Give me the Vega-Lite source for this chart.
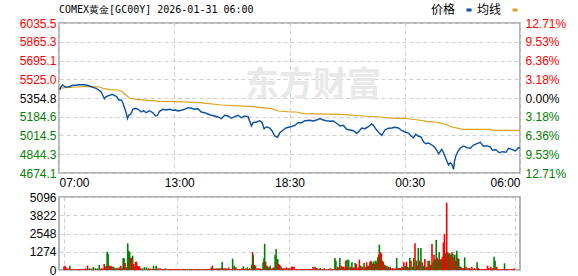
{
 "$schema": "https://vega.github.io/schema/vega-lite/v6.json",
 "padding": {"left": 18, "top": 3, "right": 5, "bottom": 5},
 "background": "white",
 "bounds": "flush",
 "spacing": 24,
 "resolve": {"scale": {"color": "independent"}, "legend": {"color": "independent"}},
 "config": {
  "view": {"stroke": "#9c9c9c", "strokeWidth": 1.5},
  "font": "Liberation Sans",
  "axis": {"labelFont": "Liberation Sans", "labelFontSize": 12, "gridColor": "#cfcfcf", "gridDash": [4, 3], "gridWidth": 1, "ticks": false, "domain": false, "title": null, "labelPadding": 3}
 },
 "datasets": {
  "wm": [{"m": 760, "p": 5468, "t": "东方财富"}],
  "price": [
   {"m":0,"p":5437},{"m":3,"p":5433.8},{"m":6,"p":5457.4},{"m":11,"p":5472.8},{"m":19,"p":5454.7},{"m":31,"p":5457.4},{"m":41,"p":5470.1},{"m":51,"p":5470.1},{"m":61,"p":5475.5},{"m":71,"p":5475.5},{"m":81,"p":5472.8},{"m":91,"p":5463.7},{"m":101,"p":5451.9},{"m":111,"p":5442.9},{"m":119,"p":5427.4},{"m":126,"p":5409.3},{"m":131,"p":5379.3},{"m":136,"p":5348.5},{"m":141,"p":5366.6},{"m":151,"p":5379.3},{"m":159,"p":5388.4},{"m":166,"p":5379.3},{"m":173,"p":5366.6},{"m":179,"p":5336.7},{"m":186,"p":5336.7},{"m":191,"p":5312.2},{"m":196,"p":5266.8},{"m":201,"p":5221.4},{"m":205,"p":5167.0},{"m":209,"p":5197.8},{"m":215,"p":5209.6},{"m":221,"p":5252.3},{"m":229,"p":5261.3},{"m":237,"p":5252.3},{"m":246,"p":5227.8},{"m":253,"p":5239.6},{"m":261,"p":5221.4},{"m":271,"p":5239.6},{"m":281,"p":5221.4},{"m":289,"p":5191.5},{"m":295,"p":5197.8},{"m":301,"p":5234.1},{"m":311,"p":5252.3},{"m":321,"p":5245.9},{"m":331,"p":5252.3},{"m":341,"p":5243.2},{"m":349,"p":5245.9},{"m":356,"p":5236.8},{"m":366,"p":5243.2},{"m":376,"p":5252.3},{"m":386,"p":5266.8},{"m":396,"p":5261.3},{"m":406,"p":5252.3},{"m":416,"p":5257.7},{"m":426,"p":5227.8},{"m":436,"p":5221.4},{"m":446,"p":5209.6},{"m":456,"p":5197.8},{"m":466,"p":5191.5},{"m":476,"p":5182.4},{"m":486,"p":5167.0},{"m":496,"p":5197.8},{"m":506,"p":5191.5},{"m":516,"p":5170.6},{"m":526,"p":5185.1},{"m":536,"p":5197.8},{"m":546,"p":5176.0},{"m":556,"p":5191.5},{"m":566,"p":5185.1},{"m":576,"p":5100.7},{"m":581,"p":5130.7},{"m":591,"p":5137.0},{"m":601,"p":5148.8},{"m":608,"p":5130.7},{"m":614,"p":5076.2},{"m":621,"p":5094.3},{"m":631,"p":5082.5},{"m":638,"p":5055.3},{"m":646,"p":5009.9},{"m":654,"p":4998.1},{"m":661,"p":5039.9},{"m":671,"p":5064.4},{"m":681,"p":5085.3},{"m":694,"p":5094.3},{"m":706,"p":5107.1},{"m":716,"p":5130.7},{"m":726,"p":5130.7},{"m":736,"p":5148.8},{"m":751,"p":5152.4},{"m":761,"p":5146.1},{"m":771,"p":5155.2},{"m":781,"p":5167.0},{"m":791,"p":5155.2},{"m":801,"p":5148.8},{"m":811,"p":5143.4},{"m":821,"p":5146.1},{"m":831,"p":5125.2},{"m":841,"p":5100.7},{"m":851,"p":5107.1},{"m":861,"p":5070.7},{"m":871,"p":5064.4},{"m":881,"p":5058.0},{"m":891,"p":5034.4},{"m":896,"p":5046.2},{"m":906,"p":5082.5},{"m":916,"p":5076.2},{"m":926,"p":5094.3},{"m":936,"p":5118.9},{"m":941,"p":5107.1},{"m":949,"p":5070.7},{"m":956,"p":5046.2},{"m":966,"p":5016.3},{"m":976,"p":5064.4},{"m":986,"p":5079.8},{"m":996,"p":5082.5},{"m":1006,"p":5088.9},{"m":1016,"p":5082.5},{"m":1026,"p":5060},{"m":1036,"p":5046.2},{"m":1046,"p":5037.2},{"m":1054,"p":5009.9},{"m":1061,"p":4994.5},{"m":1068,"p":5025.4},{"m":1076,"p":5007.2},{"m":1084,"p":5000.9},{"m":1091,"p":4958.2},{"m":1098,"p":4940.1},{"m":1106,"p":4946.4},{"m":1116,"p":4928.3},{"m":1124,"p":4910.1},{"m":1131,"p":4880.2},{"m":1136,"p":4849.3},{"m":1141,"p":4867.4},{"m":1146,"p":4889.2},{"m":1151,"p":4858.4},{"m":1156,"p":4819.3},{"m":1161,"p":4783.0},{"m":1166,"p":4746.7},{"m":1171,"p":4767.6},{"m":1176,"p":4753.1},{"m":1181,"p":4707.7},{"m":1184,"p":4783.0},{"m":1188,"p":4828.4},{"m":1194,"p":4867.4},{"m":1201,"p":4898.3},{"m":1211,"p":4919.2},{"m":1221,"p":4903.8},{"m":1231,"p":4898.3},{"m":1241,"p":4928.3},{"m":1251,"p":4940.1},{"m":1261,"p":4952.8},{"m":1271,"p":4916.5},{"m":1281,"p":4921.9},{"m":1291,"p":4910.1},{"m":1298,"p":4880.2},{"m":1308,"p":4885.6},{"m":1318,"p":4858.4},{"m":1328,"p":4867.4},{"m":1338,"p":4862.0},{"m":1346,"p":4898.3},{"m":1356,"p":4889.2},{"m":1366,"p":4873.8},{"m":1376,"p":4903.8},{"m":1380,"p":4903.8}
  ],
  "avg": [
   {"m":0,"p":5445},{"m":21,"p":5448.3},{"m":51,"p":5454.7},{"m":91,"p":5461.0},{"m":121,"p":5454.7},{"m":136,"p":5439.2},{"m":151,"p":5430.2},{"m":176,"p":5427.4},{"m":191,"p":5409.3},{"m":201,"p":5379.3},{"m":211,"p":5354.8},{"m":231,"p":5343.0},{"m":266,"p":5334.0},{"m":301,"p":5324.9},{"m":349,"p":5321.3},{"m":421,"p":5312.2},{"m":486,"p":5291.3},{"m":581,"p":5275.9},{"m":636,"p":5257.7},{"m":656,"p":5236.8},{"m":694,"p":5227.8},{"m":711,"p":5227.8},{"m":731,"p":5212.3},{"m":841,"p":5206.9},{"m":911,"p":5191.5},{"m":961,"p":5182.4},{"m":1001,"p":5170.6},{"m":1041,"p":5170.6},{"m":1051,"p":5164.2},{"m":1076,"p":5155.2},{"m":1101,"p":5143.4},{"m":1126,"p":5137.0},{"m":1146,"p":5125.2},{"m":1161,"p":5109.8},{"m":1176,"p":5091.6},{"m":1196,"p":5079.8},{"m":1206,"p":5070.7},{"m":1294,"p":5070.7},{"m":1296,"p":5061.7},{"m":1380,"p":5061.7}
  ],
  "vol": [
   {"m":0,"v":250,"d":"r"},{"m":3,"v":300,"d":"r"},{"m":6,"v":200,"d":"r"},{"m":12,"v":116,"d":"r"},{"m":18,"v":300,"d":"g"},{"m":24,"v":70,"d":"r"},{"m":30,"v":70,"d":"r"},{"m":36,"v":70,"d":"r"},{"m":42,"v":70,"d":"r"},{"m":48,"v":70,"d":"r"},{"m":54,"v":70,"d":"r"},{"m":60,"v":70,"d":"r"},{"m":66,"v":116,"d":"r"},{"m":72,"v":300,"d":"r"},{"m":78,"v":116,"d":"g"},{"m":84,"v":116,"d":"g"},{"m":90,"v":200,"d":"g"},{"m":96,"v":116,"d":"r"},{"m":102,"v":116,"d":"g"},{"m":108,"v":350,"d":"g"},{"m":114,"v":116,"d":"r"},{"m":118,"v":116,"d":"r"},{"m":123,"v":419,"d":"r"},{"m":126,"v":256,"d":"r"},{"m":129,"v":256,"d":"r"},{"m":132,"v":1280,"d":"g"},{"m":135,"v":1140,"d":"g"},{"m":139,"v":300,"d":"r"},{"m":143,"v":300,"d":"r"},{"m":146,"v":233,"d":"r"},{"m":150,"v":233,"d":"g"},{"m":153,"v":186,"d":"g"},{"m":157,"v":116,"d":"r"},{"m":162,"v":150,"d":"g"},{"m":166,"v":116,"d":"r"},{"m":170,"v":186,"d":"r"},{"m":174,"v":300,"d":"r"},{"m":178,"v":116,"d":"g"},{"m":181,"v":815,"d":"g"},{"m":184,"v":815,"d":"g"},{"m":187,"v":490,"d":"r"},{"m":191,"v":186,"d":"r"},{"m":195,"v":1860,"d":"g"},{"m":198,"v":1350,"d":"g"},{"m":201,"v":1233,"d":"g"},{"m":204,"v":838,"d":"r"},{"m":207,"v":860,"d":"r"},{"m":210,"v":1000,"d":"g"},{"m":213,"v":419,"d":"r"},{"m":216,"v":256,"d":"r"},{"m":219,"v":580,"d":"r"},{"m":222,"v":580,"d":"r"},{"m":225,"v":300,"d":"r"},{"m":228,"v":256,"d":"r"},{"m":231,"v":256,"d":"r"},{"m":234,"v":116,"d":"r"},{"m":240,"v":116,"d":"g"},{"m":246,"v":186,"d":"g"},{"m":252,"v":186,"d":"g"},{"m":258,"v":116,"d":"r"},{"m":264,"v":116,"d":"r"},{"m":270,"v":70,"d":"r"},{"m":274,"v":300,"d":"g"},{"m":278,"v":70,"d":"r"},{"m":282,"v":300,"d":"g"},{"m":288,"v":116,"d":"r"},{"m":294,"v":116,"d":"r"},{"m":300,"v":70,"d":"r"},{"m":306,"v":70,"d":"r"},{"m":311,"v":116,"d":"g"},{"m":318,"v":70,"d":"r"},{"m":324,"v":70,"d":"r"},{"m":330,"v":70,"d":"r"},{"m":336,"v":70,"d":"r"},{"m":342,"v":70,"d":"r"},{"m":348,"v":70,"d":"r"},{"m":354,"v":70,"d":"r"},{"m":360,"v":70,"d":"r"},{"m":366,"v":70,"d":"g"},{"m":372,"v":70,"d":"r"},{"m":378,"v":70,"d":"r"},{"m":384,"v":70,"d":"r"},{"m":390,"v":70,"d":"g"},{"m":396,"v":70,"d":"r"},{"m":402,"v":70,"d":"r"},{"m":408,"v":70,"d":"r"},{"m":414,"v":70,"d":"r"},{"m":420,"v":70,"d":"g"},{"m":426,"v":70,"d":"r"},{"m":432,"v":70,"d":"r"},{"m":438,"v":70,"d":"r"},{"m":444,"v":70,"d":"r"},{"m":448,"v":70,"d":"r"},{"m":451,"v":186,"d":"g"},{"m":454,"v":300,"d":"r"},{"m":457,"v":70,"d":"r"},{"m":460,"v":116,"d":"r"},{"m":463,"v":70,"d":"r"},{"m":466,"v":116,"d":"g"},{"m":469,"v":70,"d":"r"},{"m":472,"v":116,"d":"r"},{"m":476,"v":116,"d":"g"},{"m":481,"v":116,"d":"r"},{"m":484,"v":560,"d":"g"},{"m":488,"v":116,"d":"r"},{"m":492,"v":116,"d":"r"},{"m":496,"v":116,"d":"g"},{"m":500,"v":70,"d":"r"},{"m":504,"v":186,"d":"r"},{"m":508,"v":70,"d":"r"},{"m":512,"v":70,"d":"r"},{"m":516,"v":790,"d":"g"},{"m":521,"v":300,"d":"g"},{"m":526,"v":186,"d":"r"},{"m":531,"v":70,"d":"r"},{"m":536,"v":70,"d":"r"},{"m":541,"v":70,"d":"r"},{"m":545,"v":116,"d":"r"},{"m":549,"v":256,"d":"g"},{"m":553,"v":70,"d":"r"},{"m":556,"v":116,"d":"r"},{"m":561,"v":186,"d":"g"},{"m":565,"v":70,"d":"r"},{"m":568,"v":116,"d":"r"},{"m":571,"v":70,"d":"r"},{"m":574,"v":372,"d":"g"},{"m":577,"v":1250,"d":"r"},{"m":579,"v":1047,"d":"g"},{"m":582,"v":350,"d":"r"},{"m":586,"v":300,"d":"g"},{"m":591,"v":116,"d":"r"},{"m":596,"v":116,"d":"r"},{"m":601,"v":116,"d":"r"},{"m":605,"v":70,"d":"r"},{"m":609,"v":535,"d":"g"},{"m":612,"v":815,"d":"g"},{"m":614,"v":1830,"d":"g"},{"m":617,"v":580,"d":"r"},{"m":620,"v":300,"d":"g"},{"m":623,"v":256,"d":"r"},{"m":626,"v":116,"d":"r"},{"m":628,"v":186,"d":"g"},{"m":631,"v":300,"d":"g"},{"m":634,"v":70,"d":"r"},{"m":637,"v":116,"d":"r"},{"m":641,"v":186,"d":"r"},{"m":643,"v":116,"d":"r"},{"m":646,"v":1047,"d":"g"},{"m":649,"v":1466,"d":"g"},{"m":652,"v":650,"d":"r"},{"m":654,"v":768,"d":"g"},{"m":657,"v":419,"d":"r"},{"m":660,"v":350,"d":"r"},{"m":664,"v":256,"d":"g"},{"m":668,"v":116,"d":"r"},{"m":672,"v":116,"d":"r"},{"m":676,"v":116,"d":"r"},{"m":681,"v":186,"d":"r"},{"m":686,"v":116,"d":"g"},{"m":691,"v":116,"d":"r"},
   {"m":696,"v":233,"d":"r"},{"m":700,"v":233,"d":"r"},{"m":704,"v":233,"d":"r"},{"m":711,"v":70,"d":"r"},{"m":717,"v":70,"d":"r"},{"m":723,"v":70,"d":"r"},{"m":729,"v":70,"d":"r"},{"m":735,"v":70,"d":"r"},{"m":741,"v":70,"d":"r"},{"m":747,"v":70,"d":"r"},{"m":753,"v":70,"d":"r"},{"m":758,"v":70,"d":"r"},{"m":762,"v":233,"d":"r"},{"m":768,"v":233,"d":"g"},{"m":771,"v":116,"d":"r"},{"m":774,"v":140,"d":"r"},{"m":779,"v":70,"d":"r"},{"m":784,"v":140,"d":"g"},{"m":790,"v":70,"d":"r"},{"m":796,"v":116,"d":"r"},{"m":802,"v":70,"d":"r"},{"m":808,"v":70,"d":"g"},{"m":814,"v":116,"d":"r"},{"m":820,"v":70,"d":"r"},{"m":825,"v":70,"d":"r"},{"m":829,"v":840,"d":"g"},{"m":832,"v":650,"d":"g"},{"m":835,"v":70,"d":"r"},{"m":838,"v":233,"d":"r"},{"m":841,"v":116,"d":"r"},{"m":844,"v":840,"d":"g"},{"m":848,"v":300,"d":"r"},{"m":852,"v":233,"d":"g"},{"m":856,"v":233,"d":"r"},{"m":859,"v":116,"d":"r"},{"m":862,"v":650,"d":"r"},{"m":866,"v":720,"d":"g"},{"m":868,"v":186,"d":"r"},{"m":871,"v":720,"d":"g"},{"m":876,"v":233,"d":"r"},{"m":878,"v":116,"d":"r"},{"m":881,"v":535,"d":"g"},{"m":884,"v":140,"d":"r"},{"m":886,"v":186,"d":"r"},{"m":889,"v":116,"d":"r"},{"m":891,"v":490,"d":"g"},{"m":894,"v":420,"d":"r"},{"m":898,"v":116,"d":"r"},{"m":901,"v":186,"d":"r"},{"m":904,"v":720,"d":"r"},{"m":908,"v":300,"d":"g"},{"m":911,"v":140,"d":"r"},{"m":913,"v":233,"d":"r"},{"m":918,"v":490,"d":"g"},{"m":921,"v":140,"d":"r"},{"m":924,"v":233,"d":"r"},{"m":926,"v":535,"d":"r"},{"m":928,"v":233,"d":"g"},{"m":931,"v":300,"d":"r"},{"m":934,"v":233,"d":"g"},{"m":936,"v":580,"d":"r"},{"m":939,"v":650,"d":"r"},{"m":942,"v":535,"d":"g"},{"m":945,"v":420,"d":"r"},{"m":948,"v":605,"d":"g"},{"m":951,"v":420,"d":"r"},{"m":954,"v":650,"d":"g"},{"m":957,"v":535,"d":"r"},{"m":960,"v":885,"d":"g"},{"m":963,"v":1070,"d":"r"},{"m":965,"v":1770,"d":"g"},{"m":968,"v":1235,"d":"r"},{"m":971,"v":1165,"d":"r"},{"m":974,"v":650,"d":"g"},{"m":977,"v":580,"d":"r"},{"m":981,"v":370,"d":"g"},{"m":984,"v":300,"d":"r"},{"m":988,"v":300,"d":"g"},{"m":992,"v":233,"d":"r"},{"m":995,"v":140,"d":"r"},{"m":998,"v":233,"d":"g"},{"m":1002,"v":116,"d":"r"},{"m":1006,"v":140,"d":"r"},{"m":1010,"v":70,"d":"r"},{"m":1014,"v":116,"d":"r"},{"m":1018,"v":840,"d":"g"},{"m":1022,"v":140,"d":"r"},{"m":1025,"v":116,"d":"r"},{"m":1028,"v":140,"d":"g"},{"m":1031,"v":116,"d":"r"},{"m":1034,"v":233,"d":"r"},{"m":1037,"v":186,"d":"g"},{"m":1040,"v":535,"d":"r"},{"m":1044,"v":300,"d":"g"},{"m":1048,"v":580,"d":"r"},{"m":1052,"v":233,"d":"g"},{"m":1055,"v":140,"d":"r"},{"m":1058,"v":840,"d":"g"},{"m":1062,"v":650,"d":"r"},{"m":1066,"v":233,"d":"g"},{"m":1070,"v":840,"d":"g"},{"m":1074,"v":1860,"d":"r"},{"m":1078,"v":650,"d":"g"},{"m":1081,"v":300,"d":"r"},{"m":1084,"v":1535,"d":"g"},{"m":1088,"v":650,"d":"r"},{"m":1092,"v":1535,"d":"g"},{"m":1096,"v":535,"d":"r"},{"m":1099,"v":300,"d":"g"},{"m":1102,"v":233,"d":"g"},{"m":1104,"v":770,"d":"r"},{"m":1108,"v":233,"d":"g"},{"m":1111,"v":186,"d":"r"},{"m":1114,"v":650,"d":"r"},{"m":1118,"v":650,"d":"g"},{"m":1121,"v":370,"d":"r"},{"m":1124,"v":300,"d":"g"},{"m":1126,"v":1815,"d":"r"},{"m":1129,"v":535,"d":"g"},{"m":1132,"v":1070,"d":"r"},{"m":1134,"v":650,"d":"r"},{"m":1136,"v":745,"d":"g"},{"m":1139,"v":2095,"d":"g"},{"m":1142,"v":840,"d":"r"},{"m":1145,"v":700,"d":"r"},{"m":1148,"v":1235,"d":"g"},{"m":1151,"v":700,"d":"g"},{"m":1154,"v":770,"d":"r"},{"m":1156,"v":650,"d":"g"},{"m":1158,"v":930,"d":"r"},{"m":1161,"v":1930,"d":"r"},{"m":1164,"v":2515,"d":"r"},{"m":1166,"v":1115,"d":"r"},{"m":1168,"v":1165,"d":"g"},{"m":1171,"v":4700,"d":"r"},{"m":1174,"v":1235,"d":"r"},{"m":1177,"v":1165,"d":"g"},{"m":1180,"v":1165,"d":"g"},{"m":1182,"v":930,"d":"r"},{"m":1184,"v":1070,"d":"r"},{"m":1187,"v":1235,"d":"r"},{"m":1190,"v":1115,"d":"g"},{"m":1193,"v":885,"d":"r"},{"m":1196,"v":1070,"d":"g"},{"m":1199,"v":650,"d":"r"},{"m":1202,"v":1350,"d":"g"},{"m":1205,"v":840,"d":"r"},{"m":1208,"v":770,"d":"g"},{"m":1211,"v":233,"d":"r"},{"m":1214,"v":233,"d":"g"},{"m":1217,"v":140,"d":"r"},{"m":1220,"v":70,"d":"r"},{"m":1222,"v":140,"d":"r"},{"m":1226,"v":885,"d":"g"},{"m":1230,"v":233,"d":"r"},{"m":1233,"v":70,"d":"r"},{"m":1236,"v":140,"d":"g"},{"m":1241,"v":140,"d":"r"},{"m":1244,"v":70,"d":"r"},{"m":1248,"v":233,"d":"r"},{"m":1252,"v":70,"d":"r"},{"m":1256,"v":140,"d":"r"},{"m":1260,"v":70,"d":"r"},{"m":1264,"v":535,"d":"g"},{"m":1268,"v":140,"d":"r"},{"m":1272,"v":70,"d":"r"},{"m":1276,"v":70,"d":"r"},{"m":1281,"v":70,"d":"r"},{"m":1286,"v":70,"d":"r"},{"m":1291,"v":70,"d":"r"},{"m":1296,"v":300,"d":"r"},{"m":1300,"v":140,"d":"r"},{"m":1303,"v":70,"d":"r"},{"m":1306,"v":233,"d":"r"},{"m":1311,"v":140,"d":"r"},{"m":1316,"v":930,"d":"g"},{"m":1319,"v":650,"d":"g"},{"m":1322,"v":116,"d":"r"},{"m":1324,"v":233,"d":"r"},{"m":1329,"v":70,"d":"r"},{"m":1334,"v":70,"d":"r"},{"m":1340,"v":70,"d":"r"},{"m":1344,"v":70,"d":"r"},{"m":1348,"v":465,"d":"g"},{"m":1352,"v":70,"d":"r"},{"m":1356,"v":70,"d":"r"},{"m":1362,"v":70,"d":"r"},{"m":1368,"v":70,"d":"r"},{"m":1374,"v":70,"d":"r"},{"m":1378,"v":110,"d":"r"}
  ]
 },
 "vconcat": [
  {
   "width": 461,
   "height": 150,
   "title": {"text": "COMEX黄金[GC00Y] 2026-01-31 06:00", "anchor": "start", "frame": "group", "font": "DejaVu Sans Mono", "fontSize": 10, "fontWeight": "normal", "color": "#000000", "offset": -11},
   "layer": [
    {
     "data": {"name": "wm"},
     "mark": {"type": "text", "font": "Noto Sans CJK SC", "fontSize": 34, "fontWeight": "bold", "color": "#e8e8e8"},
     "encoding": {
      "x": {"field": "m", "type": "quantitative", "scale": {"domain": [0, 1380], "nice": false, "zero": false},
            "axis": {"orient": "bottom", "values": [0, 360, 690, 1050, 1380], "grid": false, "labelFlush": true, "labelPadding": 4, "labelColor": "#000000",
                     "labelExpr": "datum.value == 0 ? '07:00' : datum.value == 360 ? '13:00' : datum.value == 690 ? '18:30' : datum.value == 1050 ? '00:30' : '06:00'"}},
      "y": {"field": "p", "type": "quantitative", "scale": {"domain": [4674.1, 6035.5], "nice": false, "zero": false},
            "axis": {"orient": "left", "values": [4674.1, 4844.3, 5014.5, 5184.6, 5354.8, 5525.0, 5695.1, 5865.3, 6035.5], "format": ".1f", "grid": true,
                     "labelColor": {"condition": [{"test": "datum.value > 5355", "value": "#ff0000"}, {"test": "datum.value > 5354", "value": "#000000"}], "value": "#008000"}}},
      "text": {"field": "t", "type": "nominal"}
     }
    },
    {
     "data": {"name": "avg"},
     "mark": {"type": "line", "strokeWidth": 1.2},
     "encoding": {
      "x": {"field": "m", "type": "quantitative", "axis": {"orient": "bottom", "values": [0, 345, 690, 1035, 1380], "labels": false, "grid": true}},
      "y": {"field": "p", "type": "quantitative",
            "axis": {"orient": "right", "values": [4674.1, 4844.3, 5014.5, 5184.6, 5354.8, 5525.0, 5695.1, 5865.3, 6035.5], "grid": false, "labelPadding": 5,
                     "labelExpr": "format(abs(datum.value - 5354.8) / 5354.8 * 100, '.2f') + '%'",
                     "labelColor": {"condition": [{"test": "datum.value > 5355", "value": "#ff0000"}, {"test": "datum.value > 5354", "value": "#000000"}], "value": "#008000"}}},
      "color": {"datum": "均线", "type": "nominal",
                "scale": {"domain": ["价格", "均线"], "range": ["#0b4f9e", "#dca21b"]},
                "legend": {"orient": "none", "legendX": 374, "legendY": -19, "direction": "horizontal", "title": null,
                           "labelFont": "Noto Sans CJK SC", "labelFontSize": 12, "labelColor": "#000000",
                           "symbolType": "M-1,0H1", "symbolSize": 25, "symbolStrokeWidth": 3, "symbolOffset": 30, "labelOffset": -44, "columnPadding": -1}}
     }
    },
    {
     "data": {"name": "price"},
     "mark": {"type": "line", "strokeWidth": 1.4},
     "encoding": {
      "x": {"field": "m", "type": "quantitative", "axis": null},
      "y": {"field": "p", "type": "quantitative", "axis": null},
      "color": {"datum": "价格", "type": "nominal"}
     }
    }
   ],
   "resolve": {"axis": {"x": "independent", "y": "independent"}}
  },
  {
   "width": 461,
   "height": 73,
   "data": {"name": "vol"},
   "mark": {"type": "bar", "size": 1.6, "clip": true},
   "encoding": {
    "x": {"field": "m", "type": "quantitative", "scale": {"domain": [0, 1380], "nice": false, "zero": false},
          "axis": {"values": [0, 345, 690, 1035, 1380], "labels": false, "grid": true}},
    "y": {"field": "v", "type": "quantitative", "scale": {"domain": [0, 5096], "nice": false},
          "axis": {"values": [0, 1274, 2548, 3822, 5096], "format": "d", "grid": true, "labelColor": "#000000"}},
    "color": {"field": "d", "type": "nominal", "scale": {"domain": ["r", "g"], "range": ["#ff0000", "#008000"]}, "legend": null}
   }
  }
 ]
}
